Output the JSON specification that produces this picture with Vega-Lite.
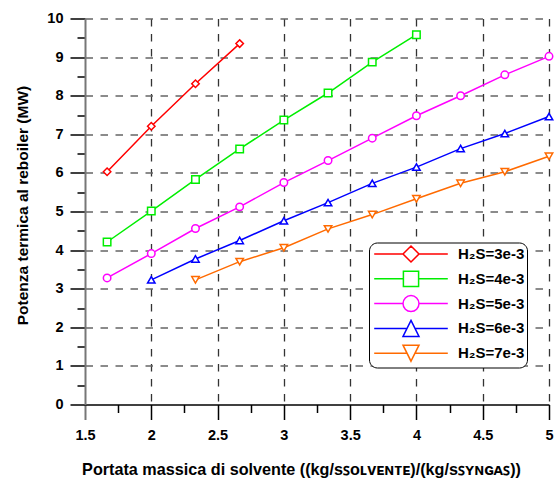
{
  "$schema": "https://vega.github.io/schema/vega-lite/v6.json",
  "autosize": {"type": "none"},
  "padding": {"left": 85, "top": 18.5, "right": 6, "bottom": 76.5},
  "width": 464,
  "height": 386,
  "background": "white",
  "config": {
    "font": "Liberation Sans",
    "view": {"stroke": null}
  },
  "data": {
    "values": [
      {"x": 1.6667, "y": 6.03, "s": "H₂S=3e-3"},
      {"x": 2, "y": 7.21, "s": "H₂S=3e-3"},
      {"x": 2.3333, "y": 8.31, "s": "H₂S=3e-3"},
      {"x": 2.6667, "y": 9.35, "s": "H₂S=3e-3"},
      {"x": 1.6667, "y": 4.21, "s": "H₂S=4e-3"},
      {"x": 2, "y": 5.01, "s": "H₂S=4e-3"},
      {"x": 2.3333, "y": 5.83, "s": "H₂S=4e-3"},
      {"x": 2.6667, "y": 6.62, "s": "H₂S=4e-3"},
      {"x": 3, "y": 7.37, "s": "H₂S=4e-3"},
      {"x": 3.3333, "y": 8.07, "s": "H₂S=4e-3"},
      {"x": 3.6667, "y": 8.87, "s": "H₂S=4e-3"},
      {"x": 4, "y": 9.58, "s": "H₂S=4e-3"},
      {"x": 1.6667, "y": 3.28, "s": "H₂S=5e-3"},
      {"x": 2, "y": 3.91, "s": "H₂S=5e-3"},
      {"x": 2.3333, "y": 4.56, "s": "H₂S=5e-3"},
      {"x": 2.6667, "y": 5.12, "s": "H₂S=5e-3"},
      {"x": 3, "y": 5.75, "s": "H₂S=5e-3"},
      {"x": 3.3333, "y": 6.32, "s": "H₂S=5e-3"},
      {"x": 3.6667, "y": 6.9, "s": "H₂S=5e-3"},
      {"x": 4, "y": 7.48, "s": "H₂S=5e-3"},
      {"x": 4.3333, "y": 8.0, "s": "H₂S=5e-3"},
      {"x": 4.6667, "y": 8.54, "s": "H₂S=5e-3"},
      {"x": 5, "y": 9.02, "s": "H₂S=5e-3"},
      {"x": 2, "y": 3.23, "s": "H₂S=6e-3"},
      {"x": 2.3333, "y": 3.77, "s": "H₂S=6e-3"},
      {"x": 2.6667, "y": 4.25, "s": "H₂S=6e-3"},
      {"x": 3, "y": 4.76, "s": "H₂S=6e-3"},
      {"x": 3.3333, "y": 5.23, "s": "H₂S=6e-3"},
      {"x": 3.6667, "y": 5.73, "s": "H₂S=6e-3"},
      {"x": 4, "y": 6.15, "s": "H₂S=6e-3"},
      {"x": 4.3333, "y": 6.63, "s": "H₂S=6e-3"},
      {"x": 4.6667, "y": 7.02, "s": "H₂S=6e-3"},
      {"x": 5, "y": 7.46, "s": "H₂S=6e-3"},
      {"x": 2.3333, "y": 3.23, "s": "H₂S=7e-3"},
      {"x": 2.6667, "y": 3.7, "s": "H₂S=7e-3"},
      {"x": 3, "y": 4.06, "s": "H₂S=7e-3"},
      {"x": 3.3333, "y": 4.55, "s": "H₂S=7e-3"},
      {"x": 3.6667, "y": 4.92, "s": "H₂S=7e-3"},
      {"x": 4, "y": 5.33, "s": "H₂S=7e-3"},
      {"x": 4.3333, "y": 5.73, "s": "H₂S=7e-3"},
      {"x": 4.6667, "y": 6.03, "s": "H₂S=7e-3"},
      {"x": 5, "y": 6.43, "s": "H₂S=7e-3"}
    ]
  },
  "encoding": {
    "x": {
      "field": "x",
      "type": "quantitative",
      "scale": {"domain": [1.5, 5], "nice": false, "zero": false},
      "axis": {
        "title": "Portata massica di solvente ((kg/sꜱᴏʟᴠᴇɴᴛᴇ)/(kg/sꜱʏɴɢᴀꜱ))",
        "titleFont": "Liberation Sans",
        "titleFontSize": 16.2,
        "titleFontWeight": "bold",
        "titleColor": "black",
        "titleX": 216,
        "titleY": 69.5,
        "titleAlign": "center",
        "titleBaseline": "alphabetic",
        "values": [1.5, 1.75, 2, 2.25, 2.5, 2.75, 3, 3.25, 3.5, 3.75, 4, 4.25, 4.5, 4.75, 5],
        "labelExpr": "(datum.value * 4) % 2 == 1 ? '' : format(datum.value, '~g')",
        "labelFont": "Liberation Sans",
        "labelFontSize": 14.5,
        "labelFontWeight": "bold",
        "labelColor": "black",
        "labelPadding": 9,
        "labelFlush": false,
        "labelOverlap": false,
        "domainColor": "black",
        "domainWidth": 1.5,
        "tickSize": {"condition": {"test": "(datum.value * 4) % 2 == 1", "value": 8}, "value": 15},
        "tickColor": {"condition": {"test": "datum.value == 1.5", "value": "#777777"}, "value": "black"},
        "tickWidth": {"condition": {"test": "datum.value == 1.5", "value": 2}, "value": 1.5},
        "grid": true,
        "gridColor": "#333333",
        "gridDash": [7.5, 7.5],
        "gridWidth": 1.3,
        "gridOpacity": {"condition": {"test": "(datum.value * 4) % 2 == 1 || datum.value == 1.5", "value": 0}, "value": 1}
      }
    },
    "y": {
      "field": "y",
      "type": "quantitative",
      "scale": {"domain": [0, 10], "nice": false},
      "axis": {
        "title": "Potenza termica al reboiler (MW)",
        "titleFont": "Liberation Sans",
        "titleFontSize": 15.5,
        "titleFontWeight": "bold",
        "titleColor": "black",
        "titleX": -63,
        "titleY": 186.5,
        "titleAngle": -90,
        "titleAlign": "center",
        "titleBaseline": "middle",
        "values": [0, 0.5, 1, 1.5, 2, 2.5, 3, 3.5, 4, 4.5, 5, 5.5, 6, 6.5, 7, 7.5, 8, 8.5, 9, 9.5, 10],
        "labelExpr": "(datum.value * 2) % 2 == 1 ? '' : format(datum.value, '~g')",
        "labelFont": "Liberation Sans",
        "labelFontSize": 14.5,
        "labelFontWeight": "bold",
        "labelColor": "black",
        "labelPadding": 7,
        "labelFlush": false,
        "labelOverlap": false,
        "domainColor": "#777777",
        "domainWidth": 2,
        "tickSize": {"condition": {"test": "(datum.value * 2) % 2 == 1", "value": 8}, "value": 15},
        "tickColor": "black",
        "tickWidth": 1.5,
        "grid": true,
        "gridColor": "#666666",
        "gridDash": [7.5, 7.5],
        "gridWidth": 1.3,
        "gridOpacity": {"condition": {"test": "(datum.value * 2) % 2 == 1 || datum.value == 0", "value": 0}, "value": 1}
      }
    },
    "color": {
      "field": "s",
      "type": "nominal",
      "scale": {
        "domain": ["H₂S=3e-3", "H₂S=4e-3", "H₂S=5e-3", "H₂S=6e-3", "H₂S=7e-3"],
        "range": ["#ff0000", "#00ee00", "#ff00ff", "#0000ff", "#ff6a00"]
      },
      "legend": {
        "title": null,
        "orient": "none",
        "legendX": 284,
        "legendY": 224,
        "padding": 2.5,
        "fillColor": "white",
        "strokeColor": "black",
        "cornerRadius": 8,
        "symbolSize": 256,
        "symbolStrokeWidth": 1.5,
        "symbolOffset": 30.5,
        "labelOffset": 38,
        "rowPadding": 2.8,
        "labelFont": "Liberation Sans",
        "labelFontSize": 15,
        "labelFontWeight": "bold",
        "labelColor": "black",
        "encoding": {
          "symbols": {
            "shape": {"value": {"expr": "datum.value == 'H₂S=3e-3' ? 'M-4.6,0L-1,0M1,0L4.6,0M0,-1L1,0L0,1L-1,0Z' : datum.value == 'H₂S=4e-3' ? 'M-4.6,0L-0.95,0M0.95,0L4.6,0M-0.95,-0.95L0.95,-0.95L0.95,0.95L-0.95,0.95Z' : datum.value == 'H₂S=5e-3' ? 'M-4.6,0L-1,0M1,0L4.6,0M1,0A1,1,0,1,1,-1,0A1,1,0,1,1,1,0Z' : datum.value == 'H₂S=6e-3' ? 'M-4.6,0L-0.5,0M0.5,0L4.6,0M0,-1L1,1L-1,1Z' : 'M-4.6,0L-0.5,0M0.5,0L4.6,0M0,1L1,-1L-1,-1Z'"}},
            "fill": {"value": "white"},
            "fillOpacity": {"value": 1},
            "strokeWidth": {"value": 1.5}
          }
        }
      }
    }
  },
  "layer": [
    {
      "mark": {"type": "line", "strokeWidth": 1.5, "clip": false},
      "encoding": {"detail": {"field": "s"}}
    },
    {
      "mark": {"type": "point", "filled": false, "fill": "white", "fillOpacity": 1, "size": 56, "strokeWidth": 1.5, "opacity": 1, "clip": false},
      "encoding": {
        "shape": {
          "field": "s",
          "type": "nominal",
          "scale": {
            "domain": ["H₂S=7e-3", "H₂S=6e-3", "H₂S=5e-3", "H₂S=4e-3", "H₂S=3e-3"],
            "range": ["triangle-down", "triangle-up", "circle", "square", "diamond"]
          },
          "legend": null
        }
      }
    }
  ]
}
